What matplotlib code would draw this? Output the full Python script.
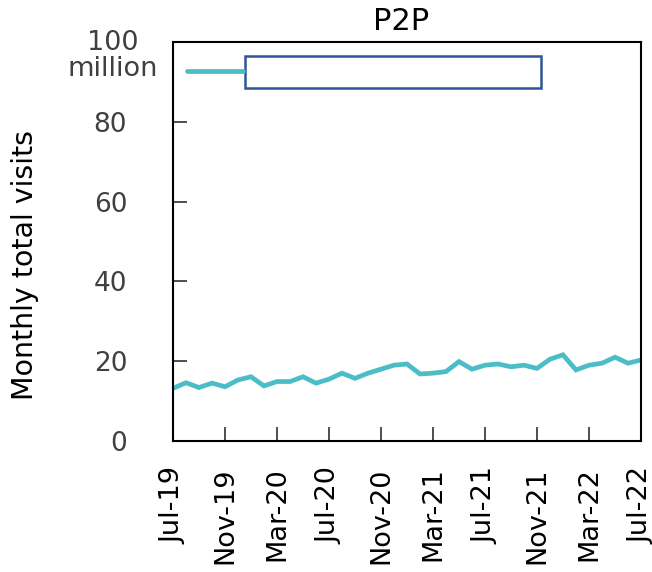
import matplotlib
matplotlib.use("Agg")
import matplotlib.pyplot as plt
from matplotlib.patches import Rectangle

plt.rcParams['font.family'] = ['DejaVu Sans']

months = ["Jul-19", "Aug-19", "Sep-19", "Oct-19", "Nov-19", "Dec-19", "Jan-20", "Feb-20",
          "Mar-20", "Apr-20", "May-20", "Jun-20", "Jul-20", "Aug-20", "Sep-20", "Oct-20",
          "Nov-20", "Dec-20", "Jan-21", "Feb-21", "Mar-21", "Apr-21", "May-21", "Jun-21",
          "Jul-21", "Aug-21", "Sep-21", "Oct-21", "Nov-21", "Dec-21", "Jan-22", "Feb-22",
          "Mar-22", "Apr-22", "May-22", "Jun-22", "Jul-22"]
visits = [13.2, 14.6, 13.4, 14.5, 13.6, 15.3, 16.1, 13.8, 14.9, 14.9, 16.1, 14.5,
          15.5, 17.0, 15.7, 17.0, 18.0, 19.0, 19.3, 16.8, 17.0, 17.4, 19.9, 18.0,
          19.0, 19.3, 18.6, 19.0, 18.2, 20.5, 21.6, 17.8, 19.0, 19.5, 21.0, 19.5, 20.3]
xtick_labels = ["Jul-19", "Nov-19", "Mar-20", "Jul-20", "Nov-20", "Mar-21",
                "Jul-21", "Nov-21", "Mar-22", "Jul-22"]
yticks = [0, 20, 40, 60, 80, 100]
ytick_labels = ["0", "20", "40", "60", "80", ""]

W, H = 652, 572
fig = plt.figure(figsize=(W / 100, H / 100), dpi=100)
ax = fig.add_axes([173 / W, 1 - 441 / H, (641 - 173) / W, (441 - 42) / H])

x = list(range(len(months)))
ax.plot(x, visits, color='#4BBDC6', lw=3.4, solid_joinstyle='miter')

ax.set_xlim(0, len(months) - 1)
ax.set_ylim(0, 100)
xt = [months.index(m) for m in xtick_labels]
ax.set_xticks(xt)
ax.set_xticklabels(xtick_labels, rotation=90, fontsize=19.5, color='#000000')
ax.set_yticks(yticks)
ax.set_yticklabels(ytick_labels, fontsize=19, color='#404040')
ax.tick_params(axis='both', direction='in', length=10, width=1.3, color='#404040')
ax.tick_params(axis='y', pad=33)
ax.tick_params(axis='x', pad=19)
for s in ax.spines.values():
    s.set_linewidth(1.5)
    s.set_color('#000000')

fig.text(113 / W, 1 - 56 / H, "100\nmillion", ha='center', va='center',
         fontsize=19.5, color='#404040', linespacing=1.05)
fig.text(25 / W, 1 - 265 / H, "Monthly total visits", rotation=90,
         ha='center', va='center', fontsize=20.5, color='#000000')
fig.text(401 / W, 1 - 22 / H, "P2P", ha='center', va='center', fontsize=22, color='#000000')

# legend
ax.plot([(187 - 173) / 468, (243 - 173) / 468], [(441 - 71) / 399] * 2,
        transform=ax.transAxes, color='#4BBDC6', lw=3.4, solid_capstyle='round')
ax.add_patch(Rectangle(((245 - 173) / 468, (441 - 88) / 399), (541 - 245) / 468, 32 / 399,
                       transform=ax.transAxes, facecolor='white', edgecolor='#2F5597', lw=1.8))

fig.savefig("out.png", dpi=100)
